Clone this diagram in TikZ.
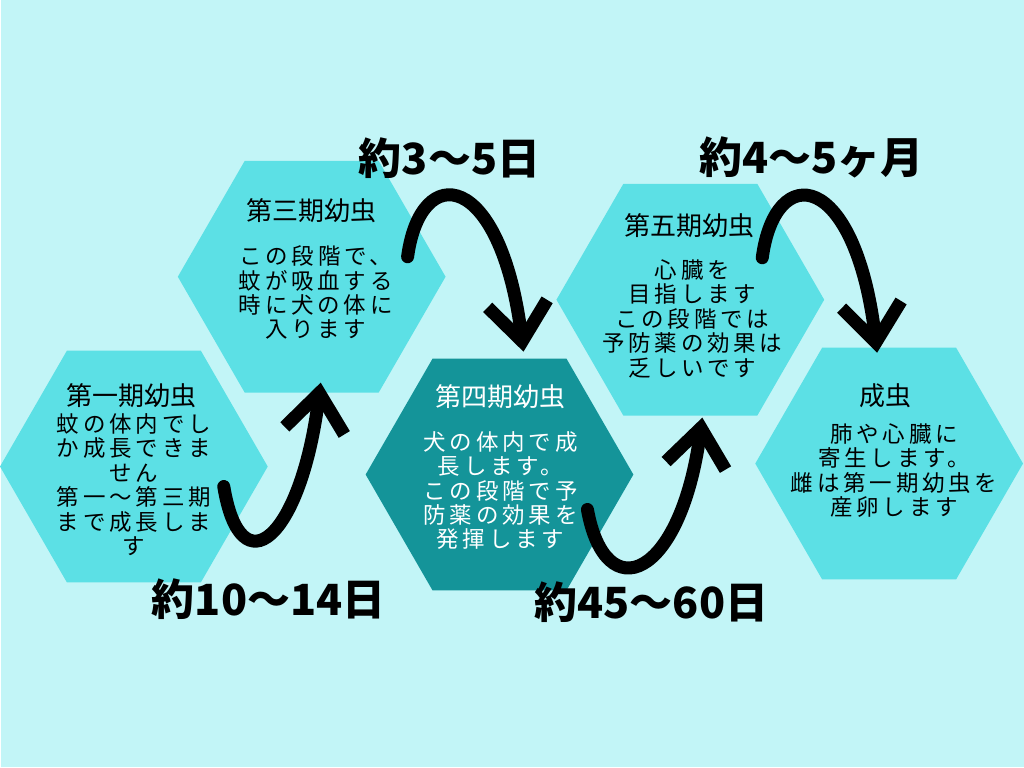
\documentclass[tikz,border=0pt]{standalone}
\usepackage{fontspec}
\usepackage{tikz}
\usetikzlibrary{shapes.geometric}
\usetikzlibrary{arrows.meta}
\newfontfamily\cjk{Noto Sans CJK JP}
\newfontfamily\cjkwide{Noto Sans CJK JP}[LetterSpace=17]
\tikzset{hex/.style = {regular polygon, regular polygon sides=6, minimum size=268pt,
                       inner sep=0, outer sep=0, fill=mcyan}}
\tikzset{title/.style = {font=\cjk\fontsize{26}{26}\selectfont, inner sep=0}}
\tikzset{body/.style = {font=\cjkwide\fontsize{22.5}{24.5}\selectfont, align=center, inner sep=0}}
\tikzset{days/.style = {font=\cjk\bfseries\fontsize{43}{43}\selectfont, inner sep=0}}
\tikzset{brush/.style = {line width=13pt, line cap=round,
                         -{Straight Barb[length=38pt, width=60pt]}}}
\definecolor{mbg}{rgb}{0.76, 0.96, 0.97}
\definecolor{mcyan}{rgb}{0.36, 0.88, 0.90}
\definecolor{mteal}{rgb}{0.08, 0.58, 0.60}

\begin{document}
\begin{tikzpicture}[x=1pt, y=-1pt]
      \fill [mbg] (0, 0) rectangle (1024, 768);

      \node [hex] (larva1) at (133, 467) {};
      \node [hex] (larva3) at (311, 277) {};
      \node [hex, fill=mteal] (larva4) at (499, 475) {};
      \node [hex] (larva5) at (690, 300) {};
      \node [hex] (adult) at (889, 464) {};

      \node [title] (title1) at (131, 396) {第一期幼虫};
      \node [body] (body1) at (133, 485) {蚊の体内でし\\か成長できま\\せん\\第一〜第三期\\まで成長しま\\す};

      \node [title] (title3) at (311, 211) {第三期幼虫};
      \node [body] (body3) at (315, 293) {この段階で、\\蚊が吸血する\\時に犬の体に\\入ります};

      \node [title, white] (title4) at (500, 397) {第四期幼虫};
      \node [body, white] (body4) at (500, 491) {犬の体内で成\\長します。\\この段階で予\\防薬の効果を\\発揮します};

      \node [title] (title5) at (689, 226) {第五期幼虫};
      \node [body] (body5) at (692, 319) {心臓を\\目指します\\この段階では\\予防薬の効果は\\乏しいです};

      \node [title] (title6) at (885, 396) {成虫};
      \node [body] (body6) at (894, 471) {肺や心臓に\\寄生します。\\雌は第一期幼虫を\\産卵します};

      \node [days] (days1) at (268, 600) {約10〜14日};
      \node [days] (days3) at (449, 158) {約3〜5日};
      \node [days] (days4) at (651, 603) {約45〜60日};
      \node [days] (days5) at (811, 158) {約4〜5ヶ月};

      % brush arrows between the stages
      \coordinate (from1) at (223, 487);
      \coordinate (to3) at (320, 383);
      \coordinate (from3) at (407, 257);
      \coordinate (to4) at (523, 352);
      \coordinate (from4) at (587, 510);
      \coordinate (to5) at (702, 418);
      \coordinate (from5) at (762, 258);
      \coordinate (to6) at (877, 353);

      \draw [brush] (from1) .. controls (240, 590) and (300, 540) .. (to3);
      \draw [brush] (from3) .. controls (420, 160) and (500, 170) .. (to4);
      \draw [brush] (from4) .. controls (605, 610) and (680, 580) .. (to5);
      \draw [brush] (from5) .. controls (775, 160) and (855, 170) .. (to6);
    \end{tikzpicture}
\end{document}
